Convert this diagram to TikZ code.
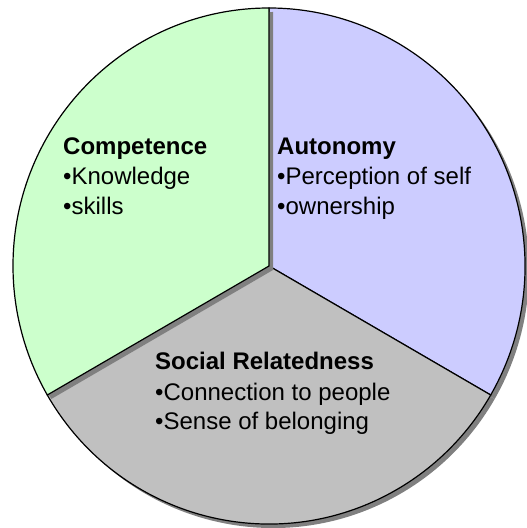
\documentclass[tikz,border=0pt]{standalone}
\usepackage{fontspec}
\setmainfont{Liberation Sans}
\definecolor{cgreen}{HTML}{CCFFCC}
\definecolor{cblue}{HTML}{CCCCFF}
\definecolor{cgrey}{HTML}{C0C0C0}
\definecolor{cshadow}{HTML}{808080}
\begin{document}
\begin{tikzpicture}[x=1pt,y=1pt,
  txt/.style={anchor=base west, inner sep=0pt, font=\fontsize{24}{28}\selectfont},
  head/.style={anchor=base west, inner sep=0pt, font=\fontsize{24}{28}\selectfont\bfseries},
  slice/.style={draw=black, line width=1.2pt, line join=miter},
  shadowslice/.style={fill=cshadow}]
\useasboundingbox (0,0) rectangle (527,528);
\coordinate (C) at (269,262);
\coordinate (S) at (273,258);
% blue sector (Autonomy)
\fill[shadowslice] (S) -- ++(-30:256pt and 258pt) arc[start angle=-30, end angle=90, x radius=256pt, y radius=258pt] -- cycle;
\filldraw[slice, fill=cblue] (C) -- ++(-30:256pt and 258pt) arc[start angle=-30, end angle=90, x radius=256pt, y radius=258pt] -- cycle;
% grey sector (Social Relatedness)
\fill[shadowslice] (S) -- ++(210:256pt and 258pt) arc[start angle=210, end angle=330, x radius=256pt, y radius=258pt] -- cycle;
\filldraw[slice, fill=cgrey] (C) -- ++(210:256pt and 258pt) arc[start angle=210, end angle=330, x radius=256pt, y radius=258pt] -- cycle;
% green sector (Competence)
\fill[shadowslice] (S) -- ++(90:256pt and 258pt) arc[start angle=90, end angle=210, x radius=256pt, y radius=258pt] -- cycle;
\filldraw[slice, fill=cgreen] (C) -- ++(90:256pt and 258pt) arc[start angle=90, end angle=210, x radius=256pt, y radius=258pt] -- cycle;
% texts
\node[head] (comp) at (63,373.4) {Competence};
\node[txt] (know) at (63,343.2) {•Knowledge};
\node[txt] (skil) at (63,313.6) {•skills};
\node[head] (auto) at (277,373.4) {Autonomy};
\node[txt] (perc) at (277,343.2) {•Perception of self};
\node[txt] (owne) at (277,313.6) {•ownership};
\node[head] (soci) at (155,158.6) {Social Relatedness};
\node[txt] (conn) at (155,127.6) {•Connection to people};
\node[txt] (sens) at (155,98.2) {•Sense of belonging};
\end{tikzpicture}
\end{document}
